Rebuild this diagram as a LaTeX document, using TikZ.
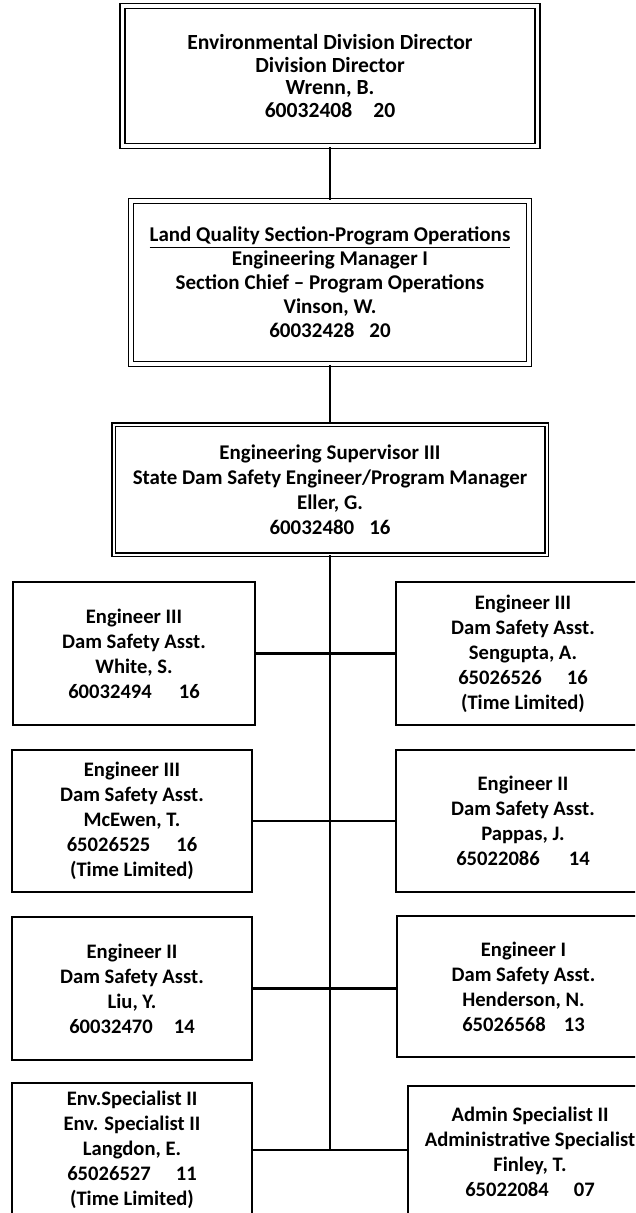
\documentclass[tikz,border=0pt]{standalone}
\usepackage{fontspec}
\setmainfont{Carlito}
\begin{document}
\begin{tikzpicture}[x=1pt,y=-1pt,
  every node/.style={font=\bfseries\fontsize{20.6}{25}\selectfont, align=center, inner sep=0pt},
  topbox/.style={draw, line width=1.6pt, double, double distance=3.5pt},
  midbox/.style={draw, line width=1.3pt, double, double distance=2pt},
  staffbox/.style={draw, line width=1.5pt},
  conn/.style={line width=2.6pt}]
\useasboundingbox (0,0) rectangle (635,1213);
\clip (0,0) rectangle (635,1213);
\node[topbox, minimum width=415pt, minimum height=140pt, font=\bfseries\fontsize{21.6}{22.5}\selectfont] (dir) at (330,76)
  {Environmental Division Director\\Division Director\\Wrenn, B.\\60032408\hspace{21pt}20};
\node[topbox, minimum width=398pt, minimum height=163pt, font=\bfseries\fontsize{21}{24}\selectfont] (chief) at (330,282.5)
  {\underline{Land Quality Section-Program Operations}\\Engineering Manager I\\Section Chief -- Program Operations\\Vinson, W.\\60032428\hspace{15pt}20};
\node[midbox, minimum width=433pt, minimum height=130pt, font=\bfseries\fontsize{20.9}{25}\selectfont] (sup) at (330,489.5)
  {Engineering Supervisor III\\State Dam Safety Engineer/Program Manager\\Eller, G.\\60032480\hspace{15pt}16};
\node[staffbox, minimum width=242pt, minimum height=143pt] (white) at (134,653.5)
  {Engineer III\\Dam Safety Asst.\\White, S.\\60032494\hspace{27pt}16};
\node[staffbox, minimum width=254pt, minimum height=143pt] (sengupta) at (523,653.5)
  {Engineer III\\Dam Safety Asst.\\Sengupta, A.\\65026526\hspace{25pt}16\\(Time Limited)};
\node[staffbox, minimum width=240pt, minimum height=142pt] (mcewen) at (132,821)
  {Engineer III\\Dam Safety Asst.\\McEwen, T.\\65026525\hspace{26pt}16\\(Time Limited)};
\node[staffbox, minimum width=254pt, minimum height=142pt] (pappas) at (523,821)
  {Engineer II\\Dam Safety Asst.\\Pappas, J.\\65022086\hspace{29pt}14};
\node[staffbox, minimum width=240pt, minimum height=143pt] (liu) at (132,988.5)
  {Engineer II\\Dam Safety Asst.\\Liu, Y.\\60032470\hspace{21pt}14};
\node[staffbox, minimum width=253pt, minimum height=141pt] (henderson) at (523.5,986.5)
  {Engineer I\\Dam Safety Asst.\\Henderson, N.\\65026568\hspace{18pt}13};
\node[staffbox, minimum width=240pt, minimum height=134pt] (langdon) at (132,1150)
  {Env.Specialist II\\Env. Specialist II\\Langdon, E.\\65026527\hspace{25pt}11\\(Time Limited)};
\node[staffbox, minimum width=244pt, minimum height=132pt] (finley) at (530,1152)
  {Admin Specialist II\\Administrative Specialist\\Finley, T.\\65022084\hspace{25pt}07};
\draw[conn] (dir.south) -- (chief.north);
\draw[conn] (chief.south) -- (sup.north);
\draw[conn] (sup.south) -- (sup.south |- langdon.east);
\draw[conn] (white.east) -- (sengupta.west);
\draw[conn] (mcewen.east) -- (pappas.west);
\draw[conn] (liu.east) -- (liu.east -| henderson.west);
\draw[conn] (langdon.east) -- (langdon.east -| finley.west);
\end{tikzpicture}
\end{document}
